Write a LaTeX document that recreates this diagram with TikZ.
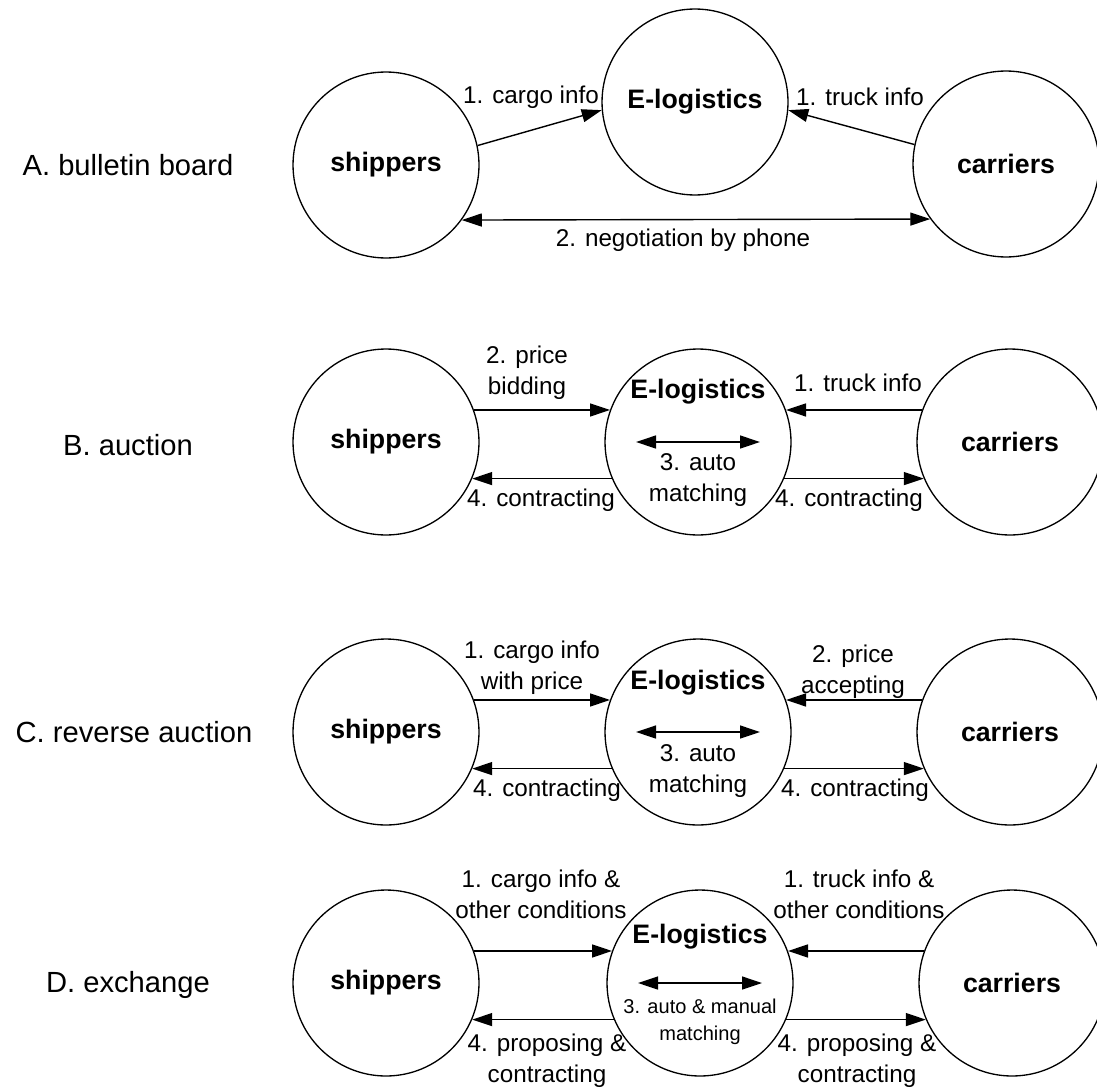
\documentclass[tikz,border=0pt]{standalone}
\usepackage{fontspec}
\setmainfont{Liberation Sans}
\usetikzlibrary{arrows.meta}
\tikzset{
    party/.style = {circle, draw=black, line width=0.75pt, minimum size=3.72cm, inner sep=0pt, font=\bfseries\fontsize{15.2}{18}\selectfont},
    elog/.style = {party, label={[font=\bfseries\fontsize{15.2}{18}\selectfont, inner sep=0pt, yshift=#1]center:E-logistics}},
    lbl/.style = {align=center, inner sep=0pt, font=\fontsize{13.8}{17.5}\selectfont},
    lbls/.style = {align=center, inner sep=0pt, font=\fontsize{11.4}{15}\selectfont},
    rowlbl/.style = {inner sep=0pt, font=\fontsize{16.6}{19}\selectfont},
    edgen/.style = {-{Triangle[length=0.4cm,width=0.26cm]}, line width=0.8pt},
    edged/.style = {{Triangle[length=0.4cm,width=0.26cm]}-{Triangle[length=0.4cm,width=0.26cm]}, line width=0.8pt}
}
\begin{document}
\begin{tikzpicture}[x=0.02cm, y=-0.02cm]
\useasboundingbox (0,0) rectangle (1097,1088);
% A. bulletin board
\node[rowlbl] at (128,165) (rA) {A. bulletin board};
\node[party] at (386,165) (sA) {shippers};
\node[party] at (695,102) (eA) {E-logistics};
\node[party] at (1006,164) (cA) {carriers};
\draw[edgen] (sA.12) -- (eA.185);
\draw[edgen] (cA.168) -- (eA.-5);
\draw[edged] (sA.-36) -- (cA.216);
\node[lbl] at (531,97) (tA1) {1. cargo info};
\node[lbl] at (860,97) (tA2) {1. truck info};
\node[lbl] at (683,240) (tA3) {2. negotiation by phone};
%
% B. auction
\node[rowlbl] at (128,445) (rB) {B. auction};
\node[party] at (386,442) (sB) {shippers};
\node[elog=1.0cm] at (698,442) (eB) {};
\node[party] at (1010,442) (cB) {carriers};
\draw[edgen] (sB.20) -- (eB.160);
\draw[edgen] (cB.160) -- (eB.20);
\draw[edgen] (eB.-157) -- (sB.-23);
\draw[edgen] (eB.-23) -- (cB.-157);
\coordinate (mB1) at ([xshift=-1.24cm]eB.center);
\coordinate (mB2) at ([xshift=1.24cm]eB.center);
\draw[edged] (mB1) -- (mB2);
\node[lbl] at (527,373) (tB1) {2. price\\bidding};
\node[lbl] at (858,383) (tB2) {1. truck info};
\node[lbl, anchor=north] at ([yshift=-0.22cm]eB.center) (tB3) {3. auto\\matching};
\node[lbl] at (541,500) (tB4) {4. contracting};
\node[lbl] at (849,500) (tB5) {4. contracting};
%
% C. reverse auction
\node[rowlbl] at (134,732) (rC) {C. reverse auction};
\node[party] at (386,732) (sC) {shippers};
\node[elog=0.98cm] at (698,732) (eC) {};
\node[party] at (1010,732) (cC) {carriers};
\draw[edgen] (sC.20) -- (eC.160);
\draw[edgen] (cC.160) -- (eC.20);
\draw[edgen] (eC.-157) -- (sC.-23);
\draw[edgen] (eC.-23) -- (cC.-157);
\coordinate (mC1) at ([xshift=-1.24cm]eC.center);
\coordinate (mC2) at ([xshift=1.24cm]eC.center);
\draw[edged] (mC1) -- (mC2);
\node[lbl] at (532,668) (tC1) {1. cargo info\\with price};
\node[lbl] at (853,672) (tC2) {2. price\\accepting};
\node[lbl, anchor=north] at ([yshift=-0.24cm]eC.center) (tC3) {3. auto\\matching};
\node[lbl] at (547,790) (tC4) {4. contracting};
\node[lbl] at (855,790) (tC5) {4. contracting};
%
% D. exchange
\node[rowlbl] at (128,985) (rD) {D. exchange};
\node[party] at (386,983) (sD) {shippers};
\node[elog=0.92cm] at (700,983) (eD) {};
\node[party] at (1012,983) (cD) {carriers};
\draw[edgen] (sD.20) -- (eD.160);
\draw[edgen] (cD.160) -- (eD.20);
\draw[edgen] (eD.-157) -- (sD.-23);
\draw[edgen] (eD.-23) -- (cD.-157);
\coordinate (mD1) at ([xshift=-1.24cm]eD.center);
\coordinate (mD2) at ([xshift=1.24cm]eD.center);
\draw[edged] (mD1) -- (mD2);
\node[lbl] at (541,894) (tD1) {1. cargo info \&\\other conditions};
\node[lbl] at (859,894) (tD2) {1. truck info \&\\other conditions};
\node[lbls, anchor=north] at ([yshift=-0.32cm]eD.center) (tD3) {3. auto \& manual\\matching};
\node[lbl] at (547,1061) (tD4) {4. proposing \&\\contracting};
\node[lbl] at (857,1061) (tD5) {4. proposing \&\\contracting};
\end{tikzpicture}
\end{document}
